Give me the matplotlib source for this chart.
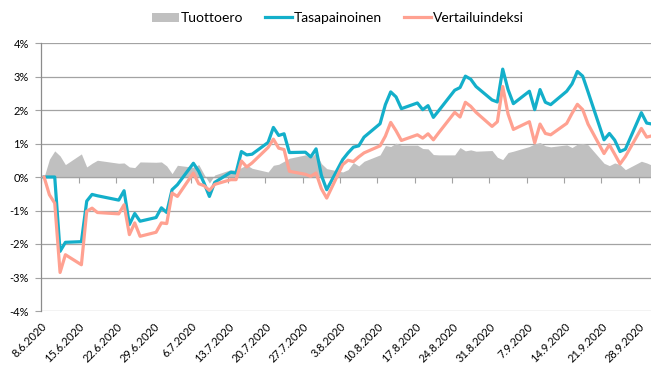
import matplotlib
matplotlib.use("Agg")
import matplotlib.pyplot as plt
from matplotlib.patches import Patch
from matplotlib.lines import Line2D
import pandas as pd

plt.rcParams['font.family'] = ['Lato', 'DejaVu Sans']

# Trading days, June-September 2020
dates = [
    "2020-06-08", "2020-06-09", "2020-06-10", "2020-06-11", "2020-06-12",
    "2020-06-15", "2020-06-16", "2020-06-17", "2020-06-18",
    "2020-06-22", "2020-06-23", "2020-06-24", "2020-06-25", "2020-06-26",
    "2020-06-29", "2020-06-30", "2020-07-01", "2020-07-02", "2020-07-03",
    "2020-07-06", "2020-07-07", "2020-07-08", "2020-07-09", "2020-07-10",
    "2020-07-13", "2020-07-14", "2020-07-15", "2020-07-16", "2020-07-17",
    "2020-07-20", "2020-07-21", "2020-07-22", "2020-07-23", "2020-07-24",
    "2020-07-27", "2020-07-28", "2020-07-29", "2020-07-30", "2020-07-31",
    "2020-08-03", "2020-08-04", "2020-08-05", "2020-08-06", "2020-08-07",
    "2020-08-10", "2020-08-11", "2020-08-12", "2020-08-13", "2020-08-14",
    "2020-08-17", "2020-08-18", "2020-08-19", "2020-08-20", "2020-08-21",
    "2020-08-24", "2020-08-25", "2020-08-26", "2020-08-27", "2020-08-28",
    "2020-08-31", "2020-09-01", "2020-09-02", "2020-09-03", "2020-09-04",
    "2020-09-07", "2020-09-08", "2020-09-09", "2020-09-10", "2020-09-11",
    "2020-09-14", "2020-09-15", "2020-09-16", "2020-09-17", "2020-09-18",
    "2020-09-21", "2020-09-22", "2020-09-23", "2020-09-24", "2020-09-25",
    "2020-09-28", "2020-09-29", "2020-09-30",
]

# Cumulative return, %
tasapainoinen = [
    0.00, 0.00, 0.00, -2.22, -1.95,
    -1.93, -0.72, -0.52, -0.56,
    -0.69, -0.41, -1.42, -1.09, -1.32,
    -1.21, -0.92, -1.06, -0.38, -0.23,
    0.41, 0.17, -0.18, -0.58, -0.16,
    0.14, 0.12, 0.76, 0.66, 0.68,
    1.03, 1.48, 1.24, 1.29, 0.73,
    0.74, 0.60, 0.84, 0.05, -0.38,
    0.52, 0.72, 0.89, 0.93, 1.19,
    1.59, 2.16, 2.54, 2.39, 2.04,
    2.21, 2.01, 2.13, 1.78, 1.98,
    2.59, 2.67, 3.01, 2.92, 2.70,
    2.30, 2.24, 3.22, 2.61, 2.19,
    2.56, 2.01, 2.61, 2.23, 2.16,
    2.56, 2.78, 3.15, 3.01, 2.54,
    1.11, 1.30, 1.10, 0.76, 0.83,
    1.92, 1.61, 1.58,
]

vertailuindeksi = [
    0.00, -0.53, -0.78, -2.85, -2.32,
    -2.62, -1.02, -0.93, -1.06,
    -1.10, -0.83, -1.72, -1.37, -1.77,
    -1.65, -1.37, -1.39, -0.48, -0.58,
    0.12, -0.20, -0.26, -0.40, -0.22,
    -0.08, -0.08, 0.48, 0.30, 0.42,
    0.88, 1.13, 0.86, 0.82, 0.17,
    0.08, 0.02, 0.12, -0.35, -0.63,
    0.37, 0.50, 0.46, 0.60, 0.72,
    0.93, 1.22, 1.63, 1.38, 1.09,
    1.26, 1.16, 1.29, 1.11, 1.32,
    1.93, 1.79, 2.23, 2.11, 1.93,
    1.51, 1.65, 2.70, 1.88, 1.42,
    1.65, 1.02, 1.58, 1.30, 1.26,
    1.60, 1.90, 2.17, 2.01, 1.58,
    0.70, 0.96, 0.68, 0.39, 0.61,
    1.45, 1.19, 1.23,
]

# Excess return, %-points
tuottoero = [
    0.00, 0.53, 0.78, 0.63, 0.37,
    0.69, 0.30, 0.41, 0.50,
    0.41, 0.42, 0.30, 0.28, 0.45,
    0.44, 0.45, 0.33, 0.10, 0.35,
    0.29, 0.37, 0.08, -0.18, 0.06,
    0.22, 0.20, 0.28, 0.36, 0.26,
    0.15, 0.35, 0.38, 0.47, 0.56,
    0.66, 0.58, 0.72, 0.40, 0.25,
    0.15, 0.22, 0.43, 0.33, 0.47,
    0.66, 0.94, 0.91, 1.01, 0.95,
    0.95, 0.85, 0.84, 0.67, 0.66,
    0.66, 0.88, 0.78, 0.81, 0.77,
    0.79, 0.59, 0.52, 0.73, 0.77,
    0.91, 0.99, 1.03, 0.93, 0.90,
    0.96, 0.88, 0.98, 1.00, 0.96,
    0.41, 0.34, 0.42, 0.37, 0.22,
    0.47, 0.42, 0.35,
]

tick_labels = [
    "8.6.2020", "15.6.2020", "22.6.2020", "29.6.2020", "6.7.2020",
    "13.7.2020", "20.7.2020", "27.7.2020", "3.8.2020", "10.8.2020",
    "17.8.2020", "24.8.2020", "31.8.2020", "7.9.2020", "14.9.2020",
    "21.9.2020", "28.9.2020",
]
y_ticks = [-4, -3, -2, -1, 0, 1, 2, 3, 4]

col_area = "#C0C0C0"
col_tas = "#13AFCA"
col_ver = "#FFA191"
col_grid = "#A3A3A3"

x = pd.to_datetime(dates)
tick_dates = pd.to_datetime(tick_labels, format="%d.%m.%Y")
half_day = pd.Timedelta(hours=12)

fig = plt.figure(figsize=(6.51, 3.69), dpi=100)
ax = fig.add_axes([41.4 / 651, 58 / 369, 613.3 / 651, 268 / 369])

ax.fill_between(x, 0, tuottoero, color=col_area, linewidth=0, zorder=2)
ax.plot(x, tasapainoinen, color=col_tas, linewidth=2.3, zorder=3)
ax.plot(x, vertailuindeksi, color=col_ver, linewidth=2.3, zorder=4)

ax.set_xlim(x[0] - half_day, x[-1] + half_day)
ax.set_ylim(-4, 4)

# y axis: percent labels and horizontal gridlines
ax.set_yticks(y_ticks)
ax.set_yticklabels([f"{v}%" for v in y_ticks], fontsize=8)
ax.yaxis.grid(True, color=col_grid, linewidth=0.9)
ax.set_axisbelow(True)
ax.tick_params(axis="y", direction="out", length=4, color=col_grid, pad=5)

for side in ("top", "right"):
    ax.spines[side].set_visible(False)
ax.spines["left"].set_color("#8C8C8C")
ax.spines["left"].set_linewidth(0.9)
ax.spines["bottom"].set_position(("data", 0))
ax.spines["bottom"].set_color(col_grid)
ax.spines["bottom"].set_linewidth(0.9)

# weekly tick marks on the zero line, at day boundaries
ax.set_xticks(tick_dates - half_day)
ax.set_xticklabels([])
ax.tick_params(axis="x", direction="out", length=4, color=col_grid)

# date labels along the bottom edge
for d, lbl in zip(tick_dates, tick_labels):
    ax.annotate(lbl, xy=(d, -4), xytext=(1, -10), textcoords="offset points",
                rotation=45, ha="right", va="center", rotation_mode="anchor",
                fontsize=8, annotation_clip=False)

handles = [
    Patch(facecolor=col_area, edgecolor="none"),
    Line2D([], [], color=col_tas, linewidth=2.3),
    Line2D([], [], color=col_ver, linewidth=2.3),
]
fig.legend(handles, ["Tuottoero", "Tasapainoinen", "Vertailuindeksi"],
           loc="center", bbox_to_anchor=(338 / 651, 1 - 18 / 369), ncol=3,
           frameon=False, fontsize=10, handlelength=1.9, handleheight=0.6,
           handletextpad=0.15, columnspacing=1.6)

fig.savefig("out.png", dpi=100)
